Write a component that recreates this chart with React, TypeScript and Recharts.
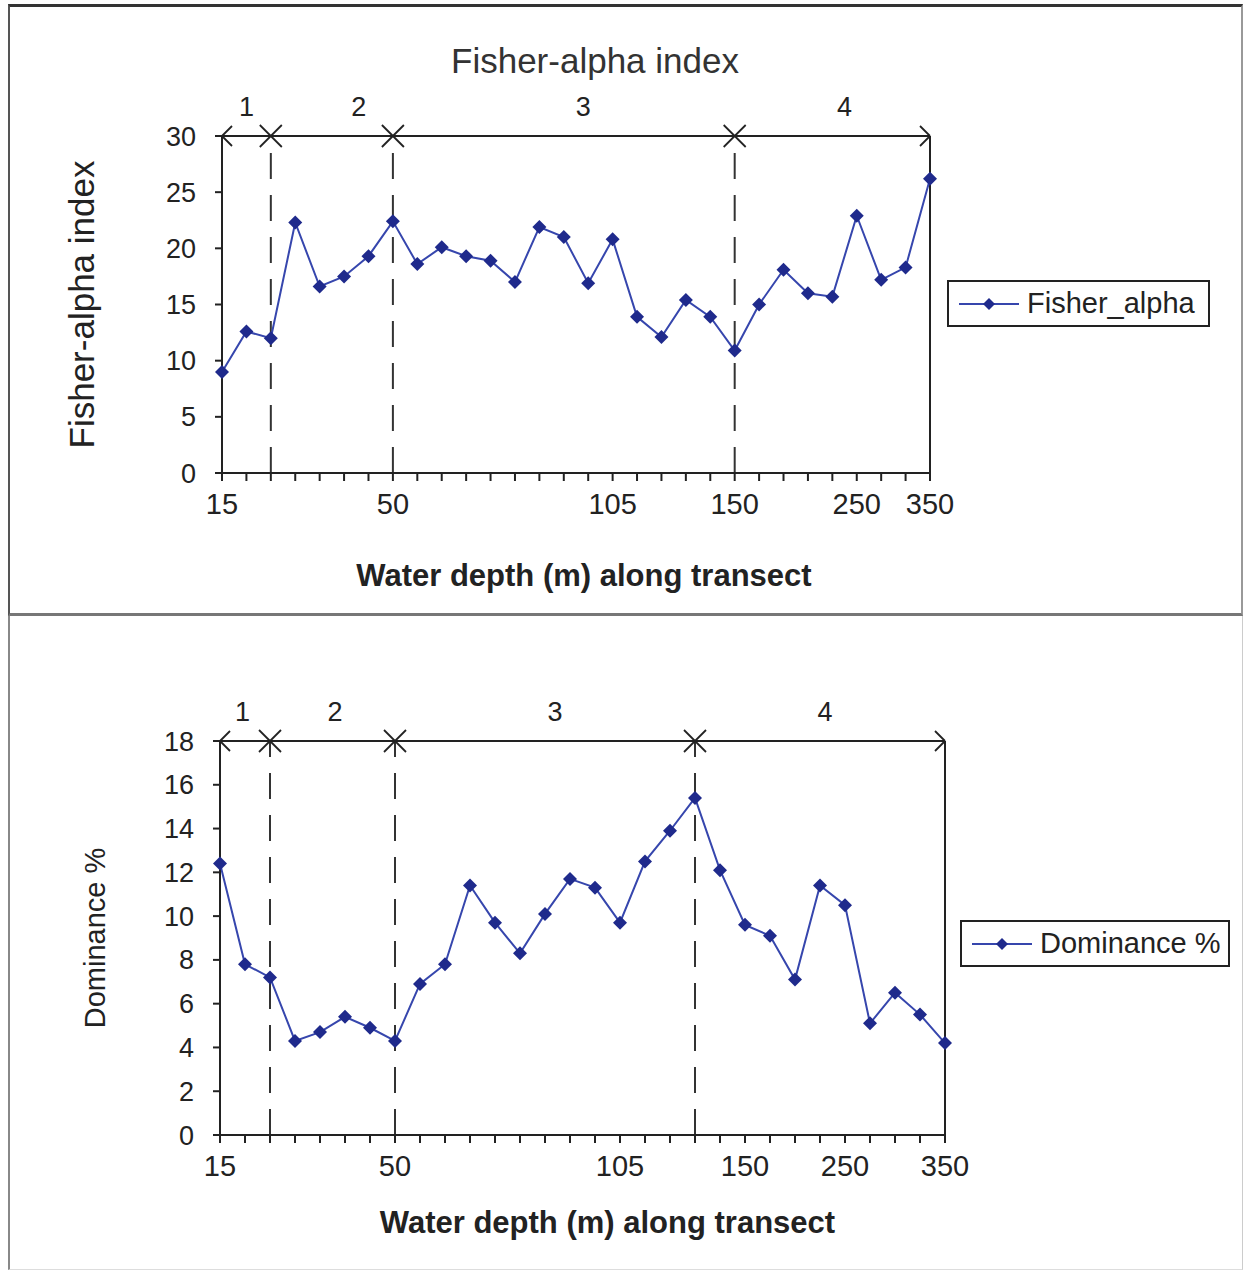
import { LineChart, Line, XAxis, YAxis, ReferenceLine, ReferenceDot, Legend } from 'recharts'

// values, one per sampling station along the transect
const fisherAlpha = [
  9.0, 12.6, 12.0, 22.3, 16.6, 17.5, 19.3, 22.4, 18.6, 20.1,
  19.3, 18.9, 17.0, 21.9, 21.0, 16.9, 20.8, 13.9, 12.1, 15.4,
  13.9, 10.9, 15.0, 18.1, 16.0, 15.7, 22.9, 17.2, 18.3, 26.2,
]
const dominance = [
  12.4, 7.8, 7.2, 4.3, 4.7, 5.4, 4.9, 4.3, 6.9, 7.8,
  11.4, 9.7, 8.3, 10.1, 11.7, 11.3, 9.7, 12.5, 13.9, 15.4,
  12.1, 9.6, 9.1, 7.1, 11.4, 10.5, 5.1, 6.5, 5.5, 4.2,
]

const depthLabels = ['15', '50', '105', '150', '250', '350']
const fisherDepthAt = [0, 7, 16, 21, 26, 29]
const dominanceDepthAt = [0, 7, 16, 21, 25, 29]

const zoneNames = ['1', '2', '3', '4']
const fisherZoneBreaks = [2, 7, 21]
const dominanceZoneBreaks = [2, 7, 19]
const fisherZoneNameAt = [1, 5.6, 14.8, 25.5]
const dominanceZoneNameAt = [0.9, 4.6, 13.4, 24.2]

const fisherTicks = [0, 5, 10, 15, 20, 25, 30]
const dominanceTicks = [0, 2, 4, 6, 8, 10, 12, 14, 16, 18]

const FONT = '"Liberation Sans", Arial, sans-serif'
const INK = '#222'
const LINE_BLUE = '#3646ad'
const MARK_BLUE = '#1f2a8c'

const Diamond = ({ cx, cy, s = 7 }: { cx?: number; cy?: number; s?: number }) => {
  if (cx == null || cy == null) return null
  return (
    <polygon
      points={`${cx},${cy - s} ${cx + s},${cy} ${cx},${cy + s} ${cx - s},${cy}`}
      fill={MARK_BLUE}
    />
  )
}

const crossMark = (p: any) => {
  const a = 11
  return (
    <g stroke={INK} strokeWidth={1.8}>
      <line x1={p.cx - a} y1={p.cy - a} x2={p.cx + a} y2={p.cy + a} />
      <line x1={p.cx - a} y1={p.cy + a} x2={p.cx + a} y2={p.cy - a} />
    </g>
  )
}

const arrowHead = (dir: 1 | -1) => (p: any) => {
  const a = 10
  return (
    <g stroke={INK} strokeWidth={1.8}>
      <line x1={p.cx} y1={p.cy} x2={p.cx + dir * a} y2={p.cy - a} />
      <line x1={p.cx} y1={p.cy} x2={p.cx + dir * a} y2={p.cy + a} />
    </g>
  )
}

const zoneName = (name: string) => (p: any) => (
  <text x={p.cx} y={p.cy - 20} textAnchor="middle" fontSize={27} fill={INK} fontFamily={FONT}>
    {name}
  </text>
)

const LegendBox = ({ name, width }: { name: string; width: number }) => (
  <div
    style={{
      width,
      height: 47,
      boxSizing: 'border-box',
      border: '2px solid #222',
      display: 'flex',
      alignItems: 'center',
      paddingLeft: 8,
      fontFamily: FONT,
      fontSize: 29,
      color: INK,
      background: '#fff',
    }}
  >
    <svg width={64} height={20} style={{ marginRight: 6 }}>
      <line x1={2} y1={10} x2={62} y2={10} stroke={LINE_BLUE} strokeWidth={2} />
      <Diamond cx={32} cy={10} s={6} />
    </svg>
    <span>{name}</span>
  </div>
)

interface PanelProps {
  values: number[]
  name: string
  yMax: number
  yTicks: number[]
  yTitle: string
  yTitleSize: number
  yTitleOffset: number
  yWidth: number
  depthAt: number[]
  zoneBreaks: number[]
  zoneNameAt: number[]
  top: number
  height: number
  margin: { top: number; right: number; bottom: number; left: number }
  xTitleDx: number
  xTitleDy: number
  legend: { left: number; top: number; width: number }
}

function Panel(p: PanelProps) {
  const data = p.values.map((v, i) => ({ idx: i, [p.name]: v }))
  const lastIdx = p.values.length - 1
  const allIdx = p.values.map((_, i) => i)
  const fmtDepth = (v: number) => {
    const k = p.depthAt.indexOf(v)
    return k >= 0 ? depthLabels[k] : ''
  }
  return (
    <div style={{ position: 'absolute', left: 0, top: p.top }}>
      <LineChart width={1245} height={p.height} data={data} margin={p.margin} style={{ fontFamily: FONT }}>
        <XAxis
          dataKey="idx"
          type="number"
          domain={[0, lastIdx]}
          ticks={allIdx}
          interval={0}
          tickFormatter={fmtDepth}
          height={40}
          axisLine={{ stroke: INK, strokeWidth: 2 }}
          tickLine={{ stroke: INK, strokeWidth: 2 }}
          tickSize={8}
          tickMargin={12}
          tick={{ fontSize: 29, fill: INK }}
          label={{
            content: (lp: any) => {
              const vb = lp.viewBox
              return (
                <text
                  x={vb.x + vb.width / 2 + p.xTitleDx}
                  y={vb.y + vb.height + p.xTitleDy}
                  textAnchor="middle"
                  fontSize={31}
                  fontWeight="bold"
                  fill={INK}
                  fontFamily={FONT}
                >
                  Water depth (m) along transect
                </text>
              )
            },
          }}
        />
        <YAxis
          type="number"
          domain={[0, p.yMax]}
          ticks={p.yTicks}
          interval={0}
          width={p.yWidth}
          axisLine={{ stroke: INK, strokeWidth: 2 }}
          tickLine={{ stroke: INK, strokeWidth: 2 }}
          tickSize={7}
          tickMargin={19}
          tick={{ fontSize: 27, fill: INK }}
          label={{
            value: p.yTitle,
            angle: -90,
            position: 'insideLeft',
            offset: p.yTitleOffset,
            style: { textAnchor: 'middle', fontSize: p.yTitleSize, fill: INK },
          }}
        />
        {p.zoneBreaks.map((b) => (
          <ReferenceLine key={`d${b}`} x={b} stroke="#333" strokeWidth={2} strokeDasharray="26 16" />
        ))}
        <ReferenceLine x={lastIdx} stroke={INK} strokeWidth={2} />
        <ReferenceLine y={p.yMax} stroke={INK} strokeWidth={2} />
        {p.zoneBreaks.map((b) => (
          <ReferenceDot key={`x${b}`} x={b} y={p.yMax} r={0} ifOverflow="visible" shape={crossMark} />
        ))}
        <ReferenceDot x={0} y={p.yMax} r={0} ifOverflow="visible" shape={arrowHead(1)} />
        <ReferenceDot x={lastIdx} y={p.yMax} r={0} ifOverflow="visible" shape={arrowHead(-1)} />
        {p.zoneNameAt.map((z, i) => (
          <ReferenceDot key={`z${i}`} x={z} y={p.yMax} r={0} ifOverflow="visible" shape={zoneName(zoneNames[i])} />
        ))}
        <Line
          type="linear"
          dataKey={p.name}
          stroke={LINE_BLUE}
          strokeWidth={2}
          dot={(dp: any) => <Diamond key={dp.index} cx={dp.cx} cy={dp.cy} />}
          isAnimationActive={false}
        />
        <Legend
          layout="horizontal"
          verticalAlign="middle"
          align="center"
          wrapperStyle={{ left: p.legend.left, top: p.legend.top, width: p.legend.width }}
          content={(lp: any) => (
            <LegendBox name={lp.payload && lp.payload[0] ? String(lp.payload[0].value) : p.name} width={p.legend.width} />
          )}
        />
      </LineChart>
    </div>
  )
}

export default function App() {
  return (
    <div style={{ position: 'absolute', left: 0, top: 0, width: 1245, height: 1271, background: '#fff', fontFamily: FONT }}>
      <div
        style={{
          position: 'absolute',
          left: 8,
          top: 4,
          width: 1235,
          height: 612,
          boxSizing: 'border-box',
          borderTop: '3px solid #333',
          borderLeft: '2px solid #555',
          borderRight: '2px solid #999',
          borderBottom: '3px solid #777',
        }}
      />
      <div
        style={{
          position: 'absolute',
          left: 8,
          top: 616,
          width: 1235,
          height: 654,
          boxSizing: 'border-box',
          borderLeft: '2px solid #888',
          borderRight: '1px solid #ccc',
          borderBottom: '1px solid #ddd',
        }}
      />
      <div
        style={{
          position: 'absolute',
          left: 0,
          width: 1190,
          top: 41,
          textAlign: 'center',
          fontSize: 35,
          color: '#333',
          lineHeight: '40px',
        }}
      >
        Fisher-alpha index
      </div>
      <Panel
        values={fisherAlpha}
        name="Fisher_alpha"
        yMax={30}
        yTicks={fisherTicks}
        yTitle="Fisher-alpha index"
        yTitleSize={35}
        yTitleOffset={0}
        yWidth={140}
        depthAt={fisherDepthAt}
        zoneBreaks={fisherZoneBreaks}
        zoneNameAt={fisherZoneNameAt}
        top={0}
        height={612}
        margin={{ top: 136, right: 315, bottom: 99, left: 82 }}
        xTitleDx={8}
        xTitleDy={73}
        legend={{ left: 947, top: 280, width: 263 }}
      />
      <Panel
        values={dominance}
        name="Dominance %"
        yMax={18}
        yTicks={dominanceTicks}
        yTitle="Dominance %"
        yTitleSize={29}
        yTitleOffset={5}
        yWidth={130}
        depthAt={dominanceDepthAt}
        zoneBreaks={dominanceZoneBreaks}
        zoneNameAt={dominanceZoneNameAt}
        top={615}
        height={655}
        margin={{ top: 126, right: 300, bottom: 95, left: 90 }}
        xTitleDx={25}
        xTitleDy={58}
        legend={{ left: 960, top: 305, width: 270 }}
      />
    </div>
  )
}
